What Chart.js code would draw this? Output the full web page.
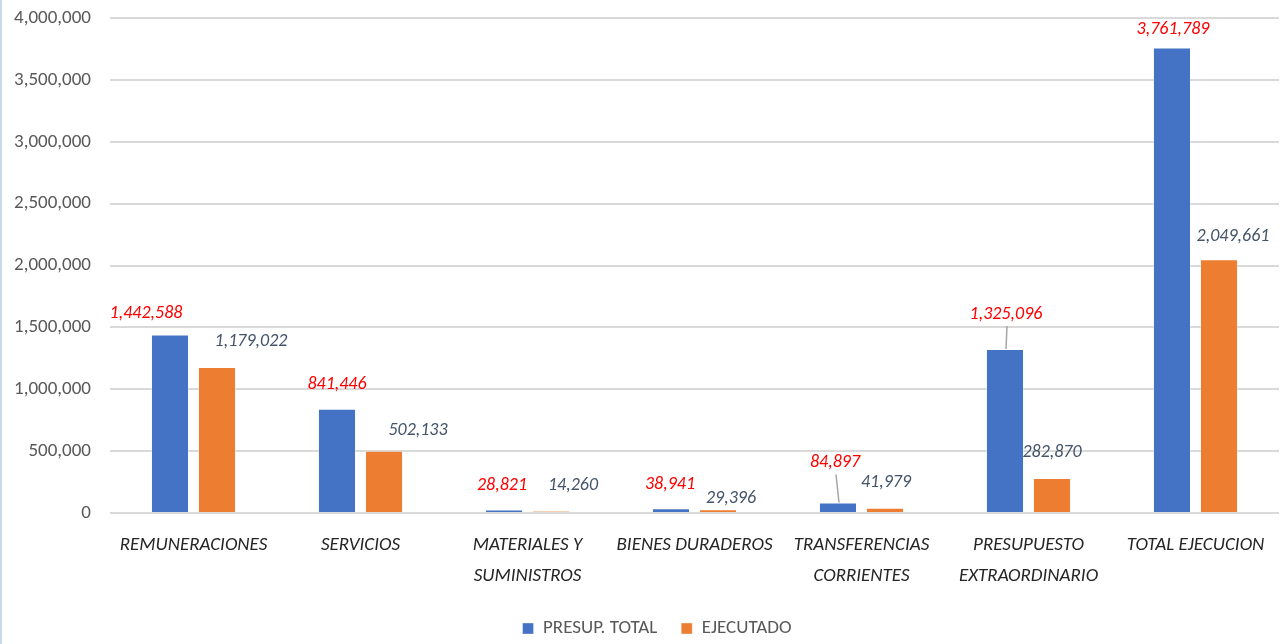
<!DOCTYPE html>
<html>
<head>
<meta charset="utf-8">
<script src="https://cdn.jsdelivr.net/npm/chart.js@4"></script>
<style>
  html, body { margin: 0; padding: 0; background: #fff; }
  #wrap { width: 1283px; height: 644px; position: relative; }
</style>
</head>
<body>
<div id="wrap"><canvas id="c" width="1283" height="644"></canvas></div>
<script>
const categories = [
  ['REMUNERACIONES'],
  ['SERVICIOS'],
  ['MATERIALES Y', 'SUMINISTROS'],
  ['BIENES DURADEROS'],
  ['TRANSFERENCIAS', 'CORRIENTES'],
  ['PRESUPUESTO', 'EXTRAORDINARIO'],
  ['TOTAL EJECUCION']
];
const seriesNames = ['PRESUP. TOTAL', 'EJECUTADO'];
const presupTotal = [1442588, 841446, 28821, 38941, 84897, 1325096, 3761789];
const ejecutado = [1179022, 502133, 14260, 29396, 41979, 282870, 2049661];
const yMin = 0, yMax = 4000000, yStep = 500000;

const labelOffsets = [
  [[-24,-21],[0,-24],[-2,-24],[-1,-24],[-3,-40],[1,-35],[1,-18]],
  [[34,-26],[34,-20],[22,-26],[13,-11],[1,-25],[0,-25],[14,-23]]
];
const labelLeaders = [
  [false,false,false,false,true,true,false],
  [false,false,false,false,false,false,false]
];
const labelColors = ['#ff0000', '#44546a'];

const FONT = "Carlito, 'Liberation Sans Narrow', Lato, sans-serif";
const fmt = v => v.toLocaleString('en-US');

const labelPlugin = {
  id: 'valueLabels',
  afterLayout(chart) {
    chart.legend.left += 35;
  },
  afterDatasetsDraw(chart) {
    const ctx = chart.ctx;
    ctx.save();
    ctx.font = 'italic 18px ' + FONT;
    ctx.textAlign = 'center';
    ctx.textBaseline = 'middle';
    chart.data.datasets.forEach((ds, di) => {
      const meta = chart.getDatasetMeta(di);
      meta.data.forEach((bar, i) => {
        const [dx, dy] = labelOffsets[di][i];
        const lx = bar.x + dx, ly = bar.y + dy;
        if (labelLeaders[di][i]) {
          ctx.strokeStyle = '#a6a6a6';
          ctx.lineWidth = 1.5;
          ctx.beginPath();
          ctx.moveTo(lx + 1, ly + 12);
          ctx.lineTo(bar.x + 1, bar.y);
          ctx.stroke();
        }
        ctx.fillStyle = labelColors[di];
        ctx.fillText(fmt(ds.data[i]), lx, ly);
      });
    });
    ctx.restore();
  }
};

const framePlugin = {
  id: 'frame',
  beforeDraw(chart) {
    const ctx = chart.ctx;
    ctx.save();
    ctx.fillStyle = '#fff';
    ctx.fillRect(0, 0, chart.width, chart.height);
    ctx.fillStyle = '#c9d7ef';
    ctx.fillRect(0, 0, 2, chart.height);
    ctx.restore();
  }
};

new Chart(document.getElementById('c'), {
  type: 'bar',
  data: {
    labels: categories,
    datasets: [
      { label: seriesNames[0], data: presupTotal, backgroundColor: '#4472c4',
        borderColor: 'rgba(255,255,255,0.35)', borderWidth: 1 },
      { label: seriesNames[1], data: ejecutado, backgroundColor: '#ed7d31',
        borderColor: 'rgba(255,255,255,0.35)', borderWidth: 1 }
    ]
  },
  options: {
    responsive: false,
    animation: false,
    devicePixelRatio: 1,
    layout: { padding: { top: 18, right: 4, left: 0, bottom: -4 } },
    datasets: { bar: { categoryPercentage: 0.563, barPercentage: 0.81 } },
    plugins: {
      legend: {
        position: 'bottom',
        labels: {
          boxWidth: 11, boxHeight: 11, padding: 24,
          color: '#595959',
          font: { family: FONT, size: 19 }
        }
      },
      tooltip: { enabled: false }
    },
    scales: {
      x: {
        grid: { display: false, drawTicks: false },
        border: { display: false },
        ticks: {
          color: '#262626',
          padding: 17,
          maxRotation: 0,
          autoSkip: false,
          font: { family: FONT, size: 19, style: 'italic', lineHeight: 1.63 }
        },
        afterFit(scale) {
          scale.height = 82;
          scale.paddingTop = 0; scale.paddingBottom = 0;
          scale.paddingLeft = 0; scale.paddingRight = 0;
        }
      },
      y: {
        min: yMin, max: yMax,
        grid: { color: '#d9d9d9', lineWidth: 2, drawTicks: false },
        border: { display: false },
        ticks: {
          stepSize: yStep,
          color: '#595959',
          padding: 19,
          font: { family: FONT, size: 19 },
          callback: v => fmt(v)
        },
        afterFit(scale) {
          scale.width = 110;
          scale.paddingTop = 0; scale.paddingBottom = 0;
        }
      }
    }
  },
  plugins: [framePlugin, labelPlugin]
});
</script>
</body>
</html>
